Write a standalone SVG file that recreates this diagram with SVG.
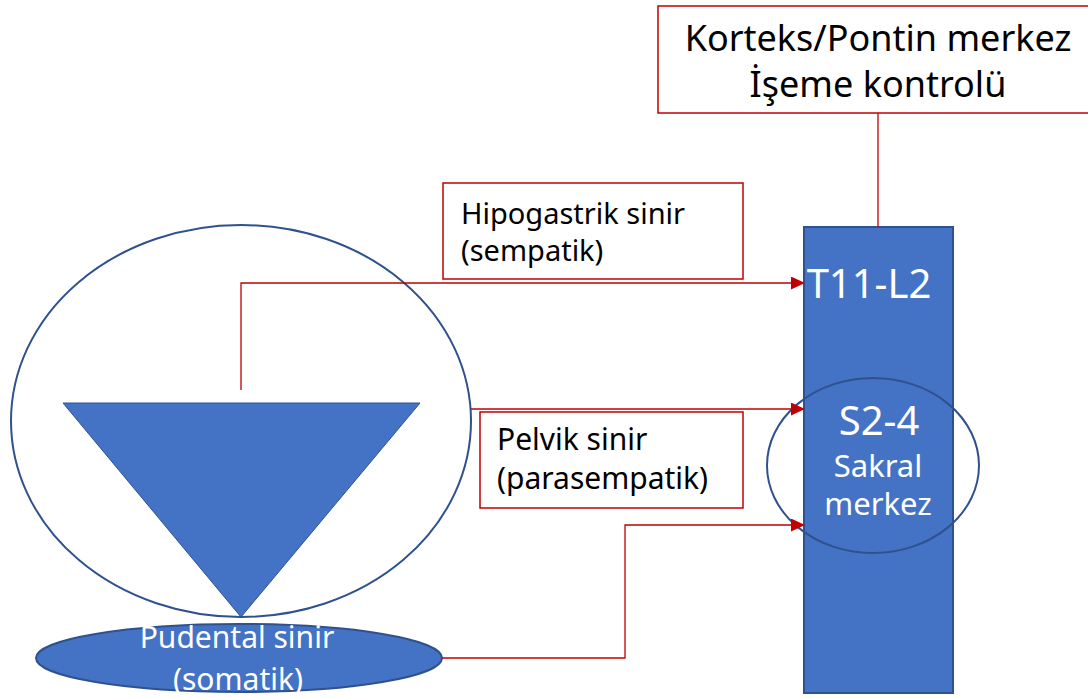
<svg xmlns="http://www.w3.org/2000/svg" width="1088" height="698" viewBox="0 0 1088 698">
<style>
.box{fill:#fff;stroke:#C00000;stroke-width:1.5}
.blue{fill:#4472C4;stroke:#2F528F;stroke-width:2}
.ring{fill:none;stroke:#2F528F;stroke-width:2}
.conn{fill:none;stroke:#C00000;stroke-width:1.3}
.t{font-family:"Noto Sans","DejaVu Sans",sans-serif;fill:#000}
.w{font-family:"Noto Sans","DejaVu Sans",sans-serif;fill:#fff}
</style>
<defs>
<marker id="arr" markerWidth="14" markerHeight="13" refX="13" refY="6.5" orient="auto" markerUnits="userSpaceOnUse" viewBox="0 0 14 13">
<path d="M0,0 L14,6.5 L0,13 Z" fill="#C00000"/>
</marker>
</defs>
<rect width="1088" height="698" fill="#fff"/>
<g id="korteks">
<rect class="box" x="658" y="6" width="440" height="107"/>
<text class="t" x="878" y="51" font-size="36" text-anchor="middle">Korteks/Pontin merkez</text>
<text class="t" x="878" y="97" font-size="36" text-anchor="middle">İşeme kontrolü</text>
</g>
<g id="spine">
<rect class="blue" x="804" y="227" width="149" height="466"/>
<text class="w" x="869" y="298" font-size="40" text-anchor="middle">T11-L2</text>
</g>
<g id="sakral">
<ellipse class="ring" cx="873" cy="465.5" rx="106" ry="87.5"/>
<text class="w" x="879" y="435" font-size="40" text-anchor="middle">S2-4</text>
<text class="w" x="878" y="477" font-size="31" text-anchor="middle">Sakral</text>
<text class="w" x="878" y="515" font-size="31" text-anchor="middle">merkez</text>
</g>
<g id="bladder">
<ellipse class="ring" cx="241" cy="421" rx="230" ry="196"/>
<polygon points="63,403 420,403 241,617" fill="#4472C4" stroke="#2F528F" stroke-width="1"/>
</g>
<g id="pudental">
<ellipse class="blue" cx="239" cy="658" rx="203" ry="34" stroke-width="1.5"/>
<text class="w" x="237" y="648" font-size="30" text-anchor="middle">Pudental sinir</text>
<text class="w" x="238" y="690" font-size="30" text-anchor="middle">(somatik)</text>
</g>
<g id="hipogastrik">
<rect class="box" x="443" y="183" width="300" height="96"/>
<text class="t" x="461" y="224" font-size="29">Hipogastrik sinir</text>
<text class="t" x="461" y="261" font-size="29">(sempatik)</text>
</g>
<g id="pelvik">
<rect class="box" x="480" y="412" width="263" height="96"/>
<text class="t" x="497" y="450" font-size="30">Pelvik sinir</text>
<text class="t" x="497" y="489" font-size="30">(parasempatik)</text>
</g>
<g id="connectors">
<path class="conn" d="M878,113 V227"/>
<path class="conn" d="M241,390 V283 H804" marker-end="url(#arr)"/>
<path class="conn" d="M471,409 H804" marker-end="url(#arr)"/>
<path class="conn" d="M442,658 H625 V525 H804" marker-end="url(#arr)"/>
</g>
</svg>
